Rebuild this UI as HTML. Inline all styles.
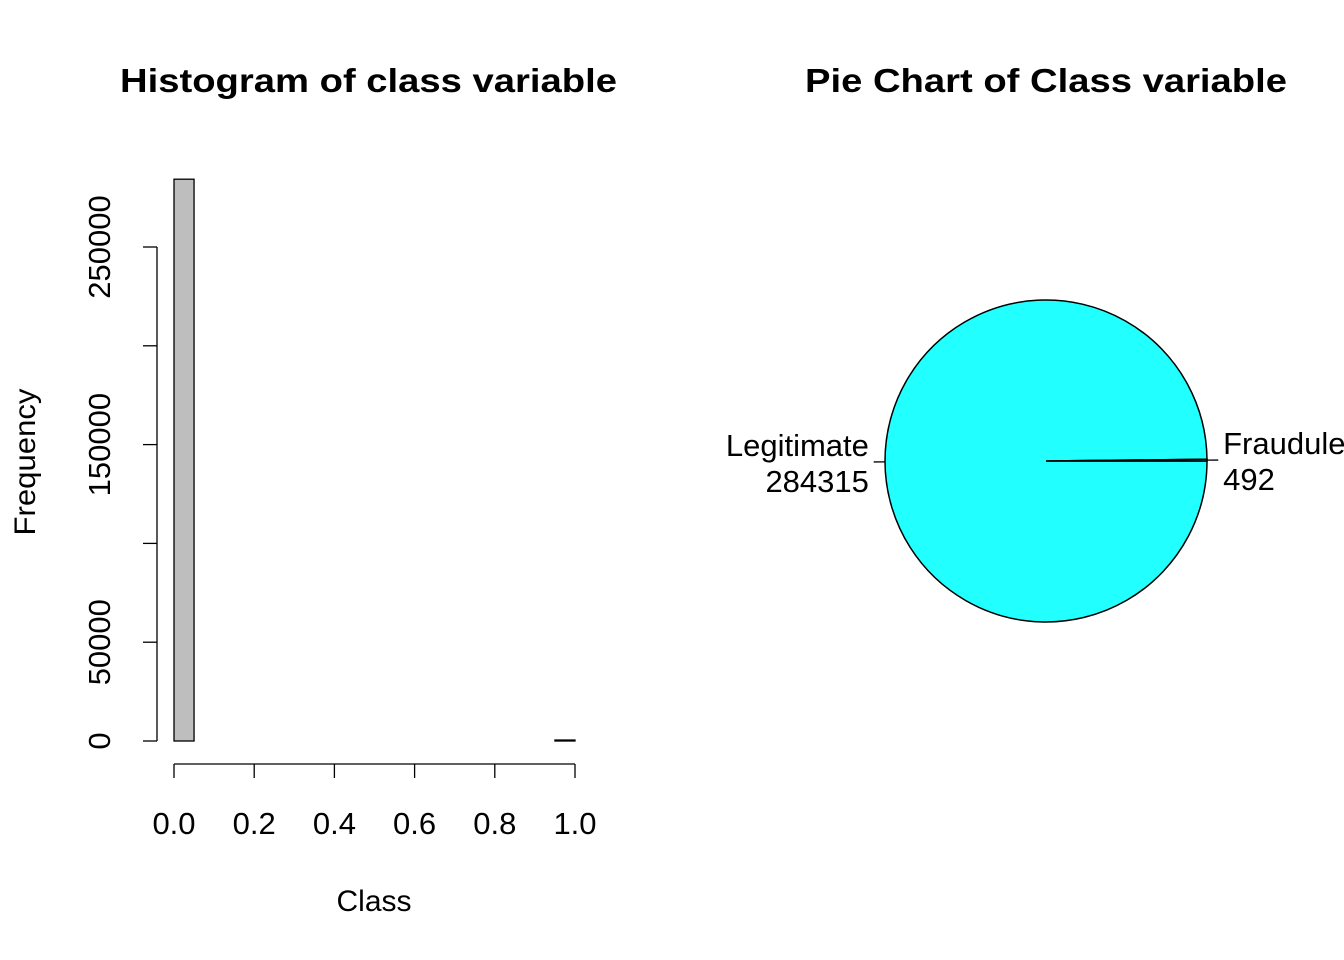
<!DOCTYPE html>
<html><head><meta charset="utf-8"><style>
html,body{margin:0;padding:0;background:#fff;}
svg{display:block;font-family:"Liberation Sans",Arial,sans-serif;}
</style></head><body>
<svg id="chart" width="1344" height="960" viewBox="0 0 1344 960">
<text x="120" y="92" font-size="33" font-weight="bold" textLength="497" lengthAdjust="spacingAndGlyphs">Histogram of class variable</text>
<text x="805" y="92" font-size="33" font-weight="bold" textLength="482" lengthAdjust="spacingAndGlyphs">Pie Chart of Class variable</text>
<g id="hist"></g>
<g id="pie"></g>
<text x="374" y="911" font-size="30" text-anchor="middle">Class</text>
<text transform="translate(35,462) rotate(-90)" font-size="30" text-anchor="middle" textLength="147" lengthAdjust="spacingAndGlyphs">Frequency</text>
</svg>
<script>
const binCounts = [284315,0,0,0,0,0,0,0,0,0,0,0,0,0,0,0,0,0,0,492];
const binWidth = 0.05;
const xTicks = [0,0.2,0.4,0.6,0.8,1.0];
const xTickLabels = ["0.0","0.2","0.4","0.6","0.8","1.0"];
const yTicks = [0,50000,100000,150000,200000,250000];
const yTickLabels = ["0","50000","","150000","","250000"];
const pieLabels = ["Legitimate","Fraudulent"];
const pieValues = [284315,492];

const NS="http://www.w3.org/2000/svg";
function mk(tag,attrs,parent){const e=document.createElementNS(NS,tag);for(const k in attrs)e.setAttribute(k,attrs[k]);parent.appendChild(e);return e;}
const xs=v=>174+v*401;
const ys=v=>741-v*0.001976;
const H=document.getElementById('hist');
binCounts.forEach((c,i)=>{
  const x0=xs(i*binWidth),x1=xs((i+1)*binWidth);
  const r=mk('rect',{x:x0,y:ys(c),width:x1-x0,height:Math.max(0,ys(0)-ys(c)),fill:'#bebebe',stroke:'#000','stroke-width':1.3},H);
  
  
});
const xa=mk('line',{x1:xs(0),x2:xs(1),y1:764,y2:764,stroke:'#000','stroke-width':1.3},H);


xTicks.forEach((t,i)=>{
  mk('line',{x1:xs(t),x2:xs(t),y1:764,y2:778,stroke:'#000','stroke-width':1.3},H);
  const tx=mk('text',{x:xs(t),y:834,'font-size':31,'text-anchor':'middle'},H);
  tx.textContent=xTickLabels[i];
  
  
});
const ya=mk('line',{x1:157,x2:157,y1:ys(0),y2:ys(250000),stroke:'#000','stroke-width':1.3},H);


yTicks.forEach((t,i)=>{
  mk('line',{x1:143,x2:157,y1:ys(t),y2:ys(t),stroke:'#000','stroke-width':1.3},H);
  if(yTickLabels[i]){
    const tx=mk('text',{transform:`translate(110,${ys(t)}) rotate(-90)`,'font-size':31,'text-anchor':'middle'},H);
    tx.textContent=yTickLabels[i];
    
    
  }
});
const P=document.getElementById('pie');
const cx=1046,cy=461,R=161;
const total=pieValues.reduce((a,b)=>a+b,0);
let ang=0;
pieValues.forEach((v,i)=>{
  const a0=ang,a1=ang-v/total*2*Math.PI;ang=a1;
  const p0=[cx+R*Math.cos(a0),cy-R*Math.sin(a0)],p1=[cx+R*Math.cos(a1),cy-R*Math.sin(a1)];
  const large=(a0-a1)>Math.PI?1:0;
  const s=mk('path',{d:`M${cx},${cy} L${p0[0]},${p0[1]} A${R},${R} 0 ${large} 1 ${p1[0]},${p1[1]} Z`,fill:'#22ffff',stroke:'#000','stroke-width':1.5},P);
  
  
  const m=(a0+a1)/2,c=Math.cos(m),sn=Math.sin(m);
  mk('line',{x1:cx+R*c,y1:cy-R*sn,x2:cx+R*1.07*c,y2:cy-R*1.07*sn,stroke:'#000','stroke-width':1.3},P);
  const lx=cx+R*1.1*c,ly=cy-R*1.1*sn;
  const t=mk('text',{x:lx,y:ly-6,'font-size':31,'text-anchor':c>0?'start':'end'},P);
  t.textContent=pieLabels[i];
  
  
  const t2=mk('text',{x:lx,y:ly+30,'font-size':31,'text-anchor':c>0?'start':'end'},P);
  t2.textContent=String(v);
  
  
});
</script>
</body></html>
